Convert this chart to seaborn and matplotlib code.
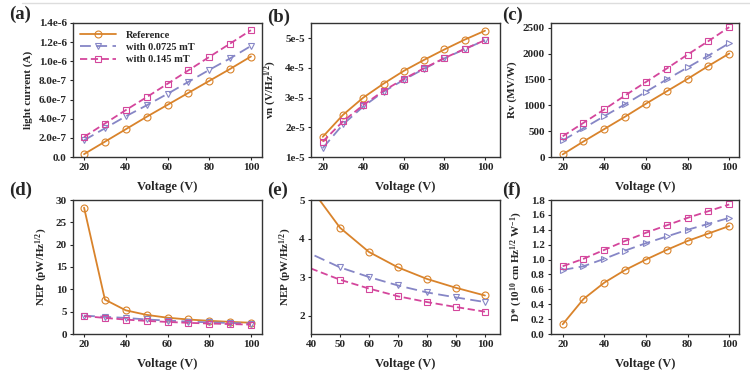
import numpy as np
import pandas as pd
import matplotlib
matplotlib.use("Agg")
import matplotlib.pyplot as plt
from matplotlib.lines import Line2D
import seaborn as sns

# Data
voltage = [20, 30, 40, 50, 60, 70, 80, 90, 100]
series_names = ["Reference", "with 0.0725 mT", "with 0.145 mT"]

current_ref = [0.3e-7, 1.6e-7, 2.9e-7, 4.2e-7, 5.45e-7, 6.7e-7, 7.95e-7, 9.2e-7, 1.05e-6]
current_low = [1.75e-7, 3.0e-7, 4.25e-7, 5.4e-7, 6.6e-7, 7.85e-7, 9.1e-7, 1.03e-6, 1.16e-6]
current_high = [2.1e-7, 3.5e-7, 4.9e-7, 6.25e-7, 7.65e-7, 9.05e-7, 1.045e-6, 1.185e-6, 1.325e-6]

vn_ref = [1.68e-5, 2.42e-5, 3.0e-5, 3.47e-5, 3.9e-5, 4.27e-5, 4.62e-5, 4.95e-5, 5.25e-5]
vn_low = [1.3e-5, 2.1e-5, 2.7e-5, 3.2e-5, 3.6e-5, 3.97e-5, 4.32e-5, 4.63e-5, 4.93e-5]
vn_high = [1.52e-5, 2.2e-5, 2.75e-5, 3.23e-5, 3.63e-5, 3.99e-5, 4.33e-5, 4.64e-5, 4.93e-5]

rv_ref = [50, 300, 540, 780, 1030, 1270, 1510, 1760, 2000]
rv_low = [320, 555, 790, 1020, 1260, 1500, 1730, 1960, 2200]
rv_high = [400, 660, 920, 1190, 1450, 1710, 1980, 2240, 2510]

nep_ref = [28.3, 7.7, 5.3, 4.28, 3.65, 3.25, 2.95, 2.72, 2.52]
nep_low = [4.1, 3.85, 3.6, 3.25, 3.0, 2.78, 2.6, 2.47, 2.35]
nep_high = [4.0, 3.6, 3.22, 2.93, 2.7, 2.5, 2.35, 2.22, 2.1]

dstar_ref = [0.13, 0.47, 0.69, 0.86, 1.0, 1.13, 1.25, 1.35, 1.45]
dstar_low = [0.86, 0.91, 1.01, 1.12, 1.22, 1.31, 1.40, 1.48, 1.56]
dstar_high = [0.91, 1.01, 1.13, 1.25, 1.36, 1.46, 1.56, 1.65, 1.74]

a_ticks = [0, 2e-7, 4e-7, 6e-7, 8e-7, 1.0e-6, 1.2e-6, 1.4e-6]
a_ticklabels = ["0.0", "2.0e-7", "4.0e-7", "6.0e-7", "8.0e-7", "1.0e-6", "1.2e-6", "1.4e-6"]
b_ticks = [1e-5, 2e-5, 3e-5, 4e-5, 5e-5]
b_ticklabels = ["1e-5", "2e-5", "3e-5", "4e-5", "5e-5"]

sns.set_style("ticks")
plt.rcParams["font.family"] = ["Liberation Serif", "DejaVu Serif"]
plt.rcParams["font.weight"] = "bold"
plt.rcParams["axes.labelweight"] = "bold"
plt.rcParams["mathtext.fontset"] = "custom"
plt.rcParams["mathtext.rm"] = "Liberation Serif:bold"
plt.rcParams["mathtext.it"] = "Liberation Serif:bold"
plt.rcParams["mathtext.bf"] = "Liberation Serif:bold"

colors = ["#D9832B", "#8686C6", "#D4469C"]
styles = ["-", (0, (6, 3)), (0, (4, 2))]

W, H = 750, 372
fig = plt.figure(figsize=(W / 100, H / 100), dpi=100)


def px_axes(x0, x1, y0, y1):
    return fig.add_axes([x0 / W, 1 - y1 / H, (x1 - x0) / W, (y1 - y0) / H])


def draw(ax, ys, marks, every=None):
    for name, y, c, ls, m in zip(series_names, ys, colors, styles, marks):
        df = pd.DataFrame({"Voltage": voltage, "val": y})
        sns.lineplot(data=df, x="Voltage", y="val", ax=ax, color=c, linestyle=ls,
                     marker=m, markersize=5, mfc="none", mec=c, mew=0.8, lw=1.3,
                     markevery=every)
    ax.set_xlabel("Voltage (V)", fontsize=9, labelpad=6)
    ax.tick_params(labelsize=8, length=2.5, width=0.8, pad=2)
    for s in ax.spines.values():
        s.set_color("#333333")
        s.set_linewidth(1.0)


cols = [(73, 262), (311, 500), (551, 739)]
rows = [(23, 157), (200, 334)]

ax_a = px_axes(*cols[0], *rows[0])
ax_b = px_axes(*cols[1], *rows[0])
ax_c = px_axes(*cols[2], *rows[0])
ax_d = px_axes(*cols[0], *rows[1])
ax_e = px_axes(*cols[1], *rows[1])
ax_f = px_axes(*cols[2], *rows[1])

draw(ax_a, [current_ref, current_low, current_high], ["o", "v", "s"])
ax_a.set_xlim(14.7, 105.3)
ax_a.set_ylim(0, 1.4e-6)
ax_a.set_yticks(a_ticks)
ax_a.set_yticklabels(a_ticklabels)
ax_a.set_ylabel("light current (A)", fontsize=8)
handles = ax_a.get_lines()[:3]
ax_a.legend(handles, series_names, loc="upper left", frameon=False,
            handlelength=3.4, handletextpad=1.0, labelspacing=0.3,
            borderaxespad=0.3, prop={"weight": "bold", "size": 7.5})

draw(ax_b, [vn_ref, vn_low, vn_high], ["o", "v", "s"])
ax_b.set_xlim(14.2, 107.4)
ax_b.set_ylim(1e-5, 5.51e-5)
ax_b.set_yticks(b_ticks)
ax_b.set_yticklabels(b_ticklabels)
ax_b.set_ylabel(r"vn (V/Hz$^{1/2}$)", fontsize=8)

draw(ax_c, [rv_ref, rv_low, rv_high], ["o", ">", "s"])
ax_c.set_xlim(14.4, 104.7)
ax_c.set_ylim(0, 2590)
ax_c.set_yticks([0, 500, 1000, 1500, 2000, 2500])
ax_c.set_ylabel("Rv (MV/W)", fontsize=8)

draw(ax_d, [nep_ref, nep_low, nep_high], ["o", "v", "s"])
ax_d.set_xlim(14.7, 105.3)
ax_d.set_ylim(0, 30)
ax_d.set_yticks([0, 5, 10, 15, 20, 25, 30])
ax_d.set_ylabel(r"NEP (pW/Hz$^{1/2}$)", fontsize=8)

# panel (e) zooms into 40-100 V; no markers drawn on the clipped left edge
draw(ax_e, [nep_ref, nep_low, nep_high], ["o", "v", "s"], every=slice(3, None))
ax_e.set_xlim(40, 105.2)
ax_e.set_ylim(1.52, 5)
ax_e.set_yticks([2, 3, 4, 5])
ax_e.set_ylabel(r"NEP (pW/Hz$^{1/2}$)", fontsize=8)

draw(ax_f, [dstar_ref, dstar_low, dstar_high], ["o", ">", "s"])
ax_f.set_xlim(14.4, 104.7)
ax_f.set_ylim(0, 1.8)
ax_f.set_yticks(np.arange(0, 1.81, 0.2))
ax_f.set_yticklabels([f"{v:.1f}" for v in np.arange(0, 1.81, 0.2)])
ax_f.set_ylabel(r"D* (10$^{10}$ cm Hz$^{1/2}$ W$^{-1}$)", fontsize=8)

for ax in [ax_a, ax_b, ax_c, ax_d, ax_f]:
    ax.set_xticks([20, 40, 60, 80, 100])
ax_e.set_xticks([40, 50, 60, 70, 80, 90, 100])

# panel letters
for lbl, x, y in [("(a)", 9, 14), ("(b)", 267, 17), ("(c)", 502, 15),
                  ("(d)", 9, 190), ("(e)", 267, 190), ("(f)", 502, 190)]:
    fig.text(x / W, 1 - y / H, lbl, fontsize=13.5, fontweight="bold", va="center", ha="left")

# thin gray rule at the top
fig.add_artist(Line2D([22 / W, 1], [1 - 2.5 / H, 1 - 2.5 / H], color="#dddddd", lw=1))

fig.savefig("out.png", dpi=100)
